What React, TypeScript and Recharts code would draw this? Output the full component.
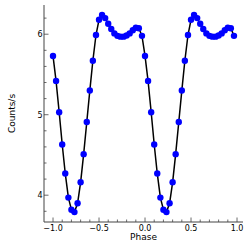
import { ComposedChart, Line, XAxis, YAxis } from "recharts";

// phase folded twice: first cycle -1..0, second 0..1
const phase = [
  -1.0, -0.967, -0.933, -0.9, -0.867, -0.833, -0.8, -0.767, -0.733, -0.7,
  -0.667, -0.633, -0.6, -0.567, -0.533, -0.5, -0.467, -0.433, -0.4, -0.367,
  -0.333, -0.3, -0.267, -0.233, -0.2, -0.167, -0.133, -0.1, -0.067, -0.033,
  0.0, 0.033, 0.067, 0.1, 0.133, 0.167, 0.2, 0.233, 0.267, 0.3,
  0.333, 0.367, 0.4, 0.433, 0.467, 0.5, 0.533, 0.567, 0.6, 0.633,
  0.667, 0.7, 0.733, 0.767, 0.8, 0.833, 0.867, 0.9, 0.933, 0.967,
];

const countsCycle = [
  5.73, 5.42, 5.03, 4.63, 4.27, 3.97, 3.82, 3.79, 3.9, 4.16,
  4.51, 4.91, 5.3, 5.67, 5.99, 6.18, 6.24, 6.2, 6.13, 6.065,
  6.01, 5.98, 5.97, 5.97, 5.985, 6.01, 6.05, 6.08, 6.075, 5.98,
];
const counts = [...countsCycle, ...countsCycle];

const xMajor = [-1.0, -0.5, 0.0, 0.5, 1.0];
const xTicks = [
  -1.0, -0.9, -0.8, -0.7, -0.6, -0.5, -0.4, -0.3, -0.2, -0.1,
  0.0, 0.1, 0.2, 0.3, 0.4, 0.5, 0.6, 0.7, 0.8, 0.9, 1.0,
];
const yMajor = [4, 5, 6];
const yTicks = [3.8, 4.0, 4.2, 4.4, 4.6, 4.8, 5.0, 5.2, 5.4, 5.6, 5.8, 6.0, 6.2];

const data = phase.map((p, i) => ({ phase: p, counts: counts[i] }));

const X_DOMAIN = [-1.098, 1.065];
const Y_DOMAIN = [3.667, 6.363];
const frame = "#444";
const font = "DejaVu Sans";
const MAJ = 4.5;
const MIN = 2.5;

const isMajor = (v: number, list: number[]) => list.some((m) => Math.abs(m - v) < 1e-6);
const fmt = (v: number) => (v < 0 ? "\u2212" : "") + Math.abs(v).toFixed(1);

function BottomTick({ x, y, payload }: any) {
  const major = isMajor(payload.value, xMajor);
  return (
    <g>
      <line x1={x} x2={x} y1={y} y2={y - (major ? MAJ : MIN)} stroke={frame} strokeWidth={0.8} />
      {major && (
        <text x={x} y={y + 8.5} textAnchor="middle" fontSize={8} fontFamily={font} fill="#000">
          {fmt(payload.value)}
        </text>
      )}
    </g>
  );
}

function TopTick({ x, y, payload }: any) {
  const major = isMajor(payload.value, xMajor);
  return <line x1={x} x2={x} y1={y} y2={y + (major ? MAJ : MIN)} stroke={frame} strokeWidth={0.8} />;
}

function LeftTick({ x, y, payload }: any) {
  const major = isMajor(payload.value, yMajor);
  return (
    <g>
      <line x1={x} x2={x + (major ? MAJ : MIN)} y1={y} y2={y} stroke={frame} strokeWidth={0.8} />
      {major && (
        <text x={x - 1.5} y={y + 3} textAnchor="end" fontSize={8} fontFamily={font} fill="#000">
          {payload.value}
        </text>
      )}
    </g>
  );
}

function RightTick({ x, y, payload }: any) {
  const major = isMajor(payload.value, yMajor);
  return <line x1={x} x2={x - (major ? MAJ : MIN)} y1={y} y2={y} stroke={frame} strokeWidth={0.8} />;
}

export default function App() {
  return (
    <div style={{ position: "absolute", left: 0, top: 0, width: 250, height: 250 }}>
      <ComposedChart width={250} height={250} data={data} margin={{ top: 5, right: 7, bottom: 0, left: 4 }}>
        <XAxis
          dataKey="phase"
          type="number"
          domain={X_DOMAIN}
          allowDataOverflow
          ticks={xTicks}
          interval={0}
          height={28}
          tickSize={0}
          tickMargin={0}
          tickLine={false}
          axisLine={{ stroke: frame }}
          tick={<BottomTick />}
        />
        <XAxis
          xAxisId="top"
          orientation="top"
          type="number"
          domain={X_DOMAIN}
          allowDataOverflow
          ticks={xTicks}
          interval={0}
          height={0}
          tickSize={0}
          tickMargin={0}
          tickLine={false}
          axisLine={{ stroke: frame }}
          tick={<TopTick />}
        />
        <YAxis
          type="number"
          domain={Y_DOMAIN}
          allowDataOverflow
          ticks={yTicks}
          interval={0}
          width={40}
          tickSize={0}
          tickMargin={0}
          tickLine={false}
          axisLine={{ stroke: frame }}
          tick={<LeftTick />}
        />
        <YAxis
          yAxisId="right"
          orientation="right"
          type="number"
          domain={Y_DOMAIN}
          allowDataOverflow
          ticks={yTicks}
          interval={0}
          width={0}
          tickSize={0}
          tickMargin={0}
          tickLine={false}
          axisLine={{ stroke: frame }}
          tick={<RightTick />}
        />
        {/* markers underneath, black line on top */}
        <Line
          dataKey="counts"
          stroke="none"
          dot={{ r: 3.2, fill: "#0000ff", stroke: "none" }}
          activeDot={false}
          isAnimationActive={false}
        />
        <Line
          dataKey="counts"
          stroke="#000"
          strokeWidth={1.5}
          dot={false}
          activeDot={false}
          isAnimationActive={false}
        />
      </ComposedChart>
      <svg width={250} height={250} style={{ position: "absolute", left: 0, top: 0, pointerEvents: "none" }}>
        <text x={143.5} y={240} textAnchor="middle" fontSize={9} fontFamily={font} fill="#000">
          Phase
        </text>
        <text
          x={15}
          y={113.5}
          textAnchor="middle"
          fontSize={9}
          fontFamily={font}
          fill="#000"
          transform="rotate(-90, 15, 113.5)"
        >
          Counts/s
        </text>
      </svg>
    </div>
  );
}
